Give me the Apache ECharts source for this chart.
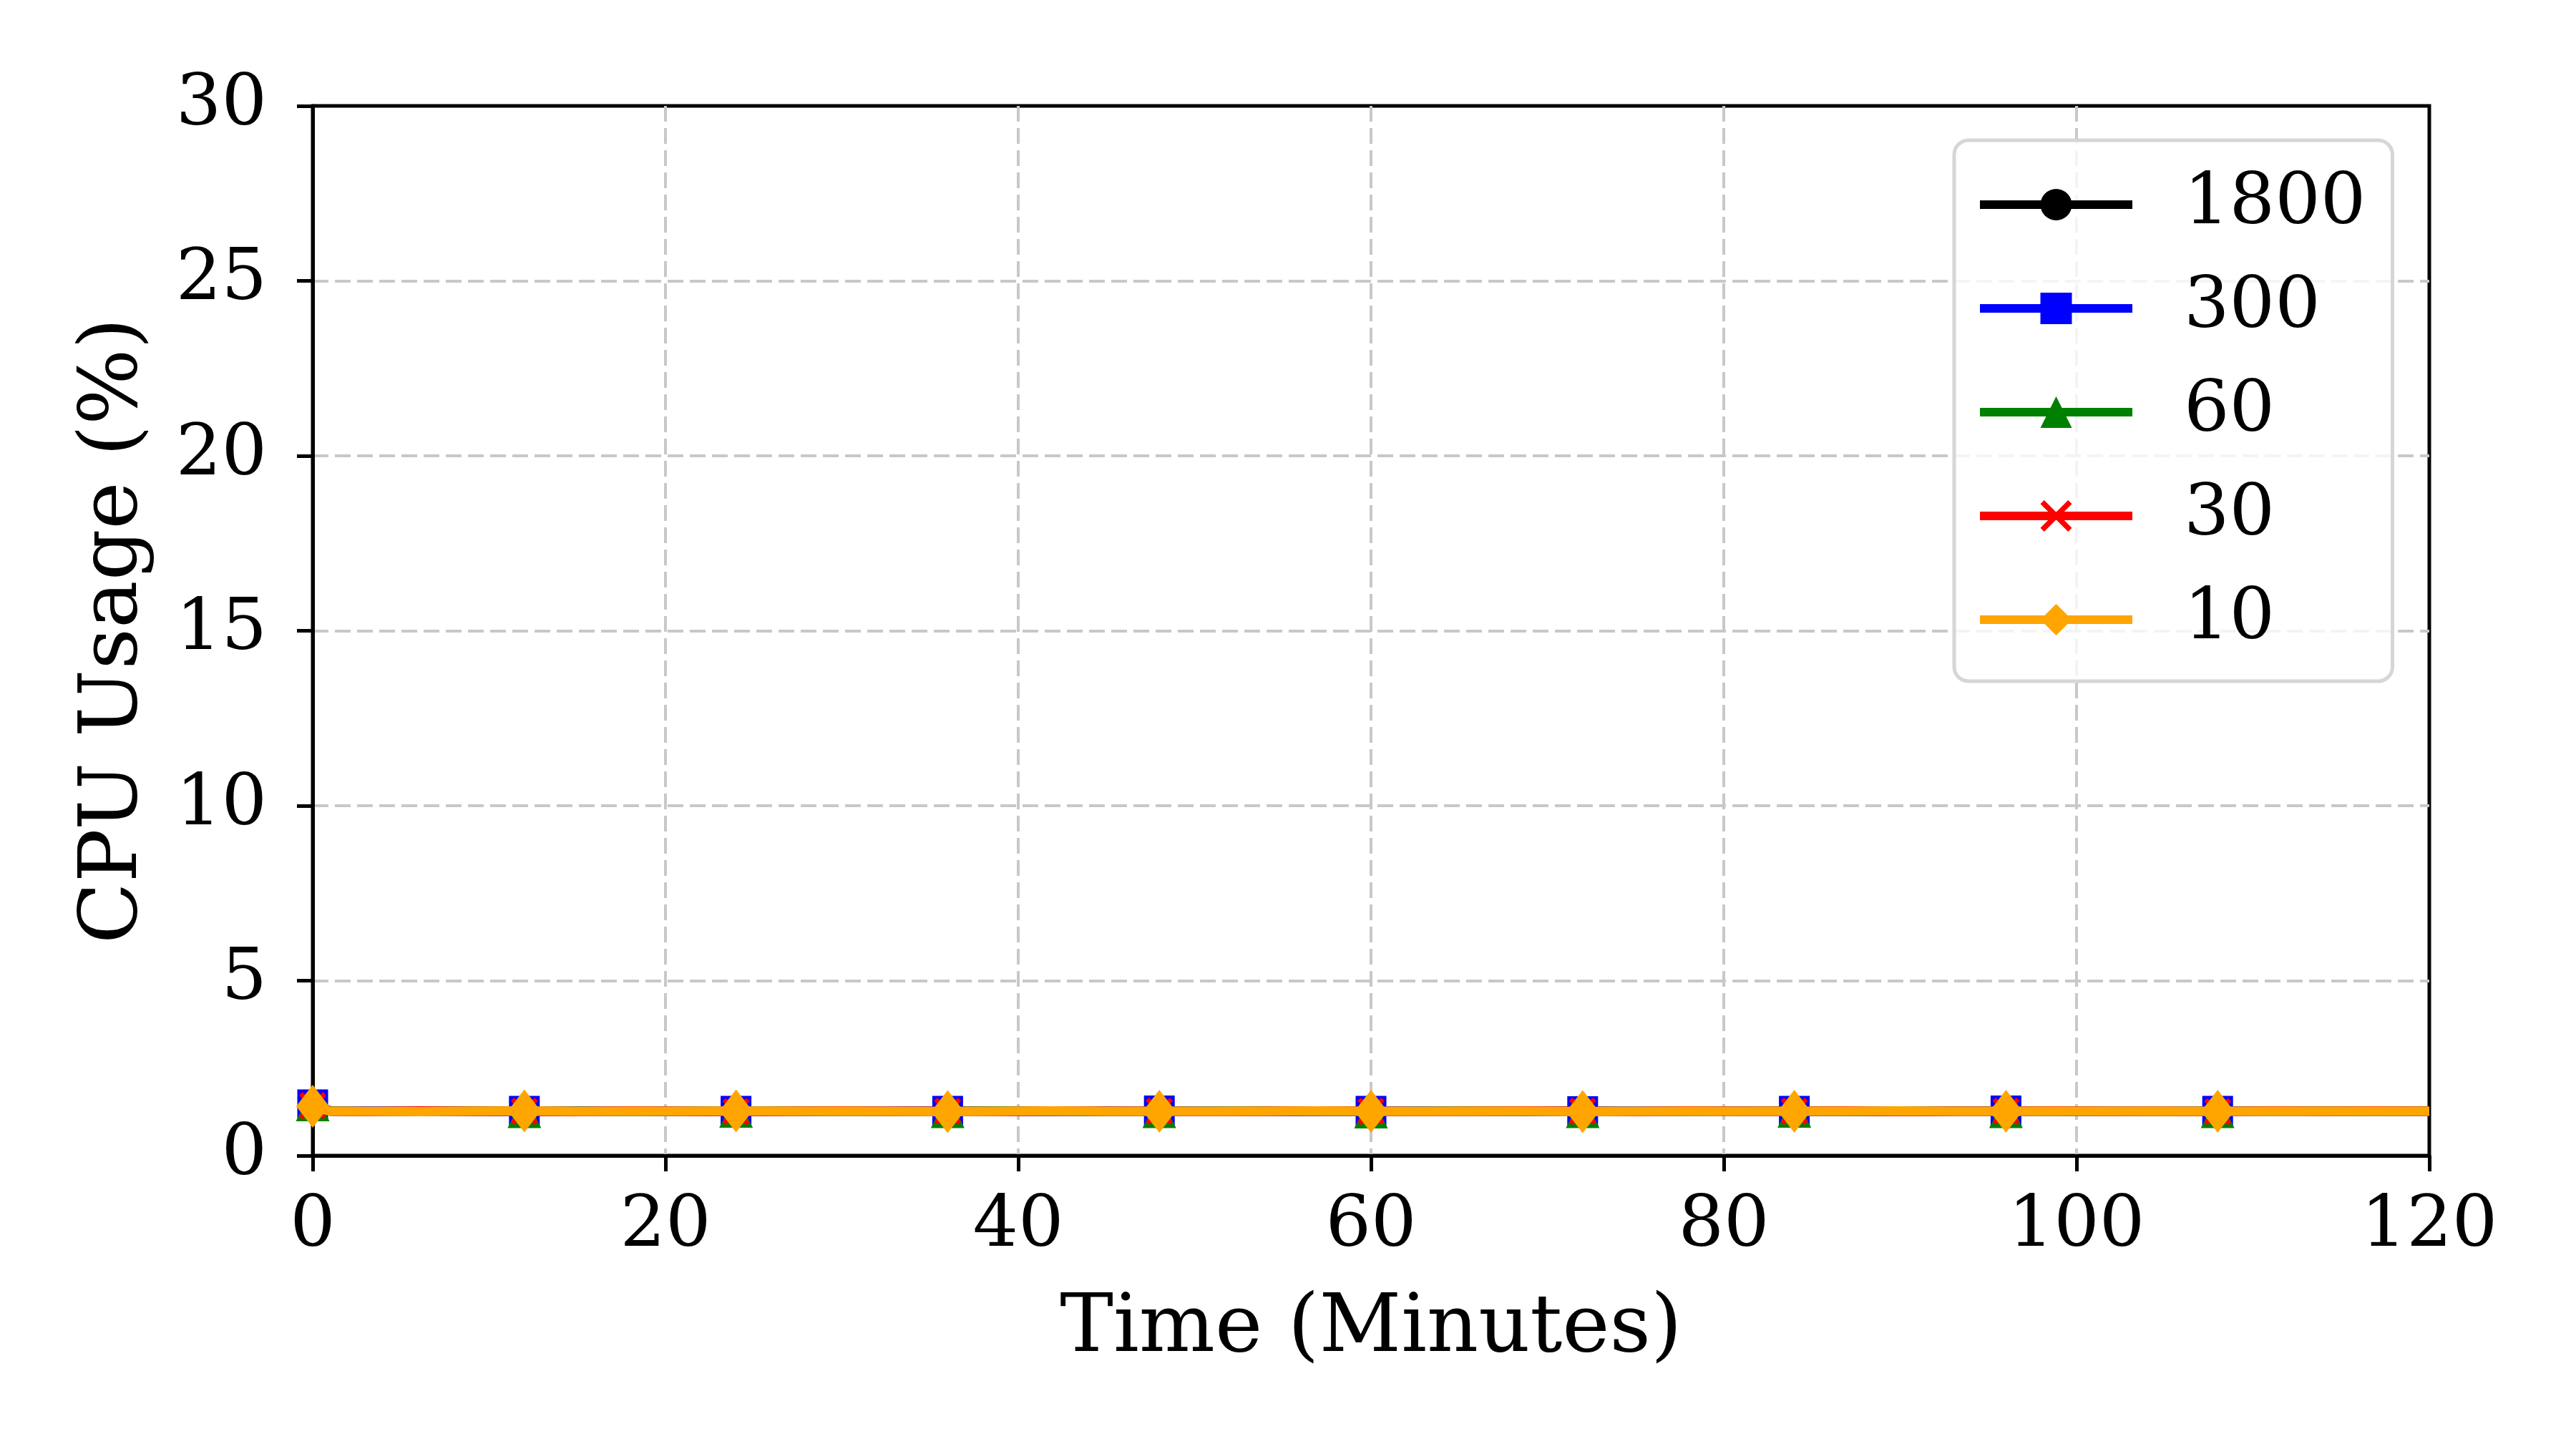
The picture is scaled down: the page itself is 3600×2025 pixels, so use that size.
<!DOCTYPE html>
<html>
<head>
<meta charset="utf-8">
<script src="https://cdn.jsdelivr.net/npm/echarts@6/dist/echarts.min.js"></script>
<style>
  html, body { margin: 0; padding: 0; background: #fff; }
  #chart { width: 3600px; height: 2025px; }
</style>
</head>
<body>
<div id="chart"></div>
<script>
// time in minutes
const minutes = [
  0, 1, 3, 6, 9, 12, 15,
  18, 21, 24, 27, 30, 33, 36,
  39, 42, 45, 48, 51, 54, 57,
  60, 63, 66, 69, 72, 75, 78,
  81, 84, 87, 90, 93, 96, 99,
  102, 105, 108, 111, 114, 117, 120
]

// cpu usage (%) per interval setting
const cpu1800 = [
  1.44, 1.28, 1.27, 1.26, 1.27, 1.27, 1.28,
  1.27, 1.26, 1.27, 1.27, 1.28, 1.27, 1.26,
  1.27, 1.27, 1.28, 1.27, 1.27, 1.26, 1.27,
  1.28, 1.27, 1.27, 1.26, 1.27, 1.27, 1.28,
  1.27, 1.27, 1.26, 1.27, 1.28, 1.27, 1.27,
  1.26, 1.27, 1.27, 1.28, 1.27, 1.27, 1.27
]
const cpu300 = [
  1.45, 1.27, 1.28, 1.27, 1.26, 1.27, 1.27,
  1.28, 1.27, 1.27, 1.26, 1.27, 1.28, 1.27,
  1.26, 1.27, 1.27, 1.28, 1.27, 1.26, 1.27,
  1.27, 1.28, 1.27, 1.27, 1.26, 1.27, 1.27,
  1.28, 1.27, 1.27, 1.26, 1.27, 1.28, 1.27,
  1.27, 1.26, 1.27, 1.28, 1.27, 1.27, 1.27
]
const cpu60 = [
  1.46, 1.28, 1.26, 1.27, 1.28, 1.27, 1.27,
  1.26, 1.27, 1.28, 1.27, 1.27, 1.26, 1.27,
  1.28, 1.27, 1.26, 1.27, 1.27, 1.28, 1.27,
  1.26, 1.27, 1.28, 1.27, 1.27, 1.26, 1.27,
  1.27, 1.28, 1.27, 1.26, 1.27, 1.27, 1.28,
  1.27, 1.26, 1.27, 1.27, 1.28, 1.27, 1.28
]
const cpu30 = [
  1.43, 1.27, 1.26, 1.28, 1.27, 1.27, 1.26,
  1.28, 1.27, 1.26, 1.27, 1.28, 1.27, 1.27,
  1.26, 1.28, 1.27, 1.27, 1.26, 1.27, 1.28,
  1.27, 1.26, 1.27, 1.28, 1.27, 1.26, 1.28,
  1.27, 1.27, 1.28, 1.26, 1.27, 1.27, 1.28,
  1.27, 1.27, 1.26, 1.28, 1.27, 1.28, 1.27
]
const cpu10 = [
  1.41, 1.27, 1.27, 1.26, 1.27, 1.28, 1.27,
  1.27, 1.27, 1.28, 1.27, 1.27, 1.27, 1.26,
  1.27, 1.28, 1.27, 1.27, 1.27, 1.27, 1.28,
  1.27, 1.27, 1.27, 1.27, 1.26, 1.27, 1.27,
  1.27, 1.27, 1.27, 1.28, 1.27, 1.27, 1.27,
  1.27, 1.27, 1.27, 1.27, 1.27, 1.27, 1.27
]

const names = ['1800', '300', '60', '30', '10']
const xTicks = [0, 20, 40, 60, 80, 100, 120]
const yTicks = [0, 5, 10, 15, 20, 25, 30]

const FONT = 'DejaVu Serif'
const xPath = 'path://M0,0.12 L0.12,0 L0.5,0.38 L0.88,0 L1,0.12 L0.62,0.5 L1,0.88 L0.88,1 L0.5,0.62 L0.12,1 L0,0.88 L0.38,0.5 Z'

// only every 12 minutes gets a marker
function toData(vals) {
  return minutes.map((m, i) => {
    if (m % 12 === 0 && m < 120) return [m, vals[i]]
    return { value: [m, vals[i]], symbol: 'none' }
  })
}

function mkSeries(name, vals, color, symbol, size, z) {
  return {
    name: name,
    type: 'line',
    data: toData(vals),
    z: z,
    showAllSymbol: true,
    symbol: symbol,
    symbolSize: size,
    lineStyle: { color: color, width: 13 },
    itemStyle: { color: color, borderWidth: 0 },
    silent: true,
    animation: false
  }
}

const gridLine = { show: true, showMinLine: false, showMaxLine: false, lineStyle: { color: '#c8c8c8', width: 4, type: [22, 9] } }

const chart = echarts.init(document.getElementById('chart'))
chart.setOption({
  backgroundColor: '#fff',
  animation: false,
  grid: {
    left: 437, right: 205, top: 148, bottom: 410,
    show: true, borderColor: '#000', borderWidth: 5
  },
  legend: {
    orient: 'vertical',
    left: 2731, top: 196,
    padding: [40, 37, 36, 30],
    itemWidth: 213, itemHeight: 55, itemGap: 45,
    backgroundColor: 'rgba(255,255,255,0.8)',
    borderColor: '#d6d6d6', borderWidth: 5, borderRadius: 20,
    lineStyle: { width: 12 },
    textStyle: { fontFamily: FONT, fontSize: 100, color: '#000', padding: [0, 0, 0, 67] },
    data: names
  },
  xAxis: {
    type: 'value', min: 0, max: 120, interval: 20,
    name: 'Time (Minutes)', nameLocation: 'middle', nameGap: 188,
    nameTextStyle: { fontFamily: FONT, fontSize: 112, color: '#000' },
    axisLine: { show: true, lineStyle: { color: '#000', width: 5 } },
    axisTick: { show: true, length: 22, lineStyle: { color: '#000', width: 5 } },
    axisLabel: {
      fontFamily: FONT, fontSize: 100, color: '#000', margin: 50,
      formatter: v => xTicks.indexOf(v) >= 0 ? String(v) : ''
    },
    splitLine: gridLine
  },
  yAxis: {
    type: 'value', min: 0, max: 30, interval: 5,
    name: 'CPU Usage (%)', nameLocation: 'middle', nameGap: 220,
    nameTextStyle: { fontFamily: FONT, fontSize: 112, color: '#000' },
    axisLine: { show: true, lineStyle: { color: '#000', width: 5 } },
    axisTick: { show: true, length: 22, lineStyle: { color: '#000', width: 5 } },
    axisLabel: {
      fontFamily: FONT, fontSize: 100, color: '#000', margin: 64,
      formatter: v => yTicks.indexOf(v) >= 0 ? String(v) : ''
    },
    splitLine: gridLine
  },
  series: [
    mkSeries('1800', cpu1800, '#000000', 'circle', 40, 2),
    mkSeries('300', cpu300, '#0000ff', 'rect', 43, 3),
    mkSeries('60', cpu60, '#008000', 'triangle', 47, 4),
    mkSeries('30', cpu30, '#ff0000', xPath, 38, 5),
    mkSeries('10', cpu10, '#ffa500', 'diamond', [46, 60], 6)
  ]
})
</script>
</body>
</html>
